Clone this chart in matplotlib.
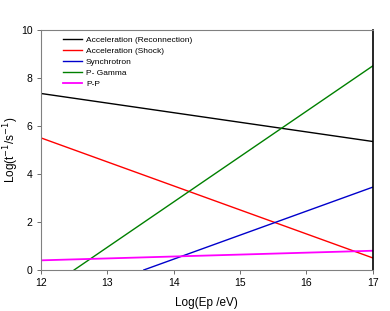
import matplotlib
matplotlib.use("Agg")
import matplotlib.pyplot as plt

x_ends = [12, 17]
accel_reconn = [7.35, 5.35]
accel_shock = [5.5, 0.5]
synch_x = [13.55, 17]
synch_y = [0.0, 3.45]
pgamma_x = [12.5, 17]
pgamma_y = [0.0, 8.5]
pp = [0.4, 0.8]

plt.rcParams['font.family'] = ['Liberation Sans', 'DejaVu Sans']
fig = plt.figure(figsize=(3.9, 3.11), dpi=100)
ax = fig.add_axes([0.105, 0.132, 0.851, 0.772])

ax.plot(x_ends, accel_reconn, color='black', lw=1, label='Acceleration (Reconnection)')
ax.plot(x_ends, accel_shock, color='red', lw=1, label='Acceleration (Shock)')
ax.plot(synch_x, synch_y, color='#0000cc', lw=1, label='Synchrotron')
ax.plot(pgamma_x, pgamma_y, color='green', lw=1, label='P- Gamma')
ax.plot(x_ends, pp, color='magenta', lw=1.3, label='P-P')

ax.set_xlim(12, 17)
ax.set_ylim(0, 10)
ax.set_xticks([12, 13, 14, 15, 16, 17])
ax.set_yticks([0, 2, 4, 6, 8, 10])
ax.tick_params(labelsize=7.5, length=3, width=0.6, color='#555555', pad=3)
for s in ['left', 'bottom', 'top']:
    ax.spines[s].set_color('#808080')
    ax.spines[s].set_linewidth(0.8)
ax.spines['right'].set_color('black')
ax.spines['right'].set_linewidth(1.2)

ax.set_xlabel('Log(Ep /eV)', fontsize=8.5, labelpad=6)
ax.set_ylabel('Log(t$^{-1}$/s$^{-1}$)', fontsize=8.5)
ax.yaxis.set_label_coords(-0.06, 0.5)

ax.legend(loc='upper left', bbox_to_anchor=(0.045, 1.0), frameon=False, fontsize=6,
          handlelength=2.3, handletextpad=0.5, labelspacing=0.38, borderaxespad=0.4)

fig.savefig('out.png', dpi=100)
